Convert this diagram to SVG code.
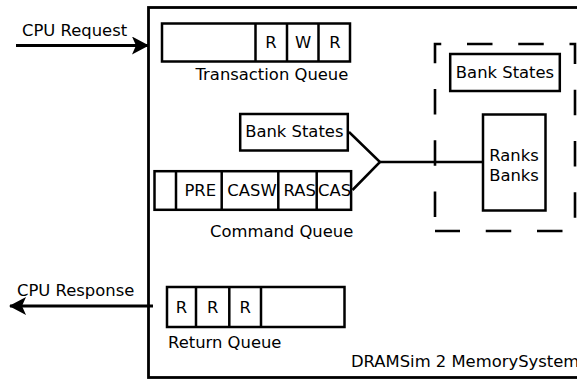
<svg xmlns="http://www.w3.org/2000/svg" width="577" height="380" viewBox="0 0 577 380">
  <style>
    .box { fill: #fff; stroke: #000; stroke-width: 2.5; }
    .sys { fill: #fff; stroke: #000; stroke-width: 2.8; }
    .div { stroke: #000; stroke-width: 2.5; fill: none; }
    .dash { fill: none; stroke: #000; stroke-width: 2.6; stroke-dasharray: 25.5 25.75; stroke-dashoffset: 37.25; }
    .wire { fill: none; stroke: #000; stroke-width: 2.5; }
    .arrow { fill: none; stroke: #000; stroke-width: 2.8; marker-end: url(#head); }
    text { font-family: "DejaVu Sans", "Liberation Sans", sans-serif; font-size: 16.4px; fill: #000; }
    .c { text-anchor: middle; }
  </style>
  <defs>
    <marker id="head" markerUnits="userSpaceOnUse" viewBox="0 0 17 18" markerWidth="17" markerHeight="18" refX="16" refY="9" orient="auto">
      <path d="M0,0 L17,9 L0,18 L4,9 Z" fill="#000"/>
    </marker>
  </defs>

  <!-- memory system outline (runs past the right edge) -->
  <g id="memory-system">
    <rect class="sys" x="148.5" y="7.5" width="450" height="370"/>
    <text x="351" y="366.5">DRAMSim 2 MemorySystem</text>
  </g>

  <!-- transaction queue -->
  <g id="transaction-queue">
    <rect class="box" x="162" y="23.5" width="188" height="38"/>
    <path class="div" d="M255.5,23.5 V61.5 M287,23.5 V61.5 M318.5,23.5 V61.5"/>
    <text class="c" x="271" y="48">R</text>
    <text class="c" x="303" y="48">W</text>
    <text class="c" x="335" y="48">R</text>
    <text x="195.5" y="80">Transaction Queue</text>
  </g>

  <!-- bank states next to the command queue -->
  <g id="bank-states-local">
    <rect class="box" x="240.2" y="114" width="107.6" height="36.5"/>
    <text class="c" x="294.3" y="137">Bank States</text>
  </g>

  <!-- command queue -->
  <g id="command-queue">
    <rect class="box" x="154.5" y="171.2" width="196.6" height="38.6"/>
    <path class="div" d="M176,171.2 V209.8 M221.7,171.2 V209.8 M278.3,171.2 V209.8 M316.7,171.2 V209.8"/>
    <text class="c" x="200.3" y="196">PRE</text>
    <text class="c" x="252" y="196">CASW</text>
    <text class="c" x="299.7" y="196">RAS</text>
    <text class="c" x="334.5" y="196">CAS</text>
    <text x="210" y="237">Command Queue</text>
  </g>

  <!-- rank / bank group -->
  <g id="rank-group">
    <path class="dash" d="M435,231 V44 H575 V231 Z"/>
  </g>

  <g id="bank-states-rank">
    <rect class="box" x="450.2" y="54" width="109.6" height="37"/>
    <text class="c" x="505" y="78">Bank States</text>
  </g>

  <g id="ranks-banks">
    <rect class="box" x="483" y="114.5" width="62.5" height="96"/>
    <text class="c" x="514" y="161">Ranks</text>
    <text class="c" x="514" y="181">Banks</text>
  </g>

  <!-- return queue -->
  <g id="return-queue">
    <rect class="box" x="167" y="287" width="177.5" height="40"/>
    <path class="div" d="M196,287 V327 M229.3,287 V327 M261,287 V327"/>
    <text class="c" x="181.5" y="313">R</text>
    <text class="c" x="212.7" y="313">R</text>
    <text class="c" x="245.2" y="313">R</text>
    <text x="168" y="348">Return Queue</text>
  </g>

  <!-- connectors -->
  <g id="connectors">
    <path class="wire" d="M349,132 L380,162 L352.5,190"/>
    <path class="wire" d="M380,162 H483"/>
    <path class="arrow" d="M16,45.5 H148"/>
    <text x="22" y="36">CPU Request</text>
    <path class="arrow" d="M153,306 H10"/>
    <text x="17" y="296">CPU Response</text>
  </g>
</svg>
